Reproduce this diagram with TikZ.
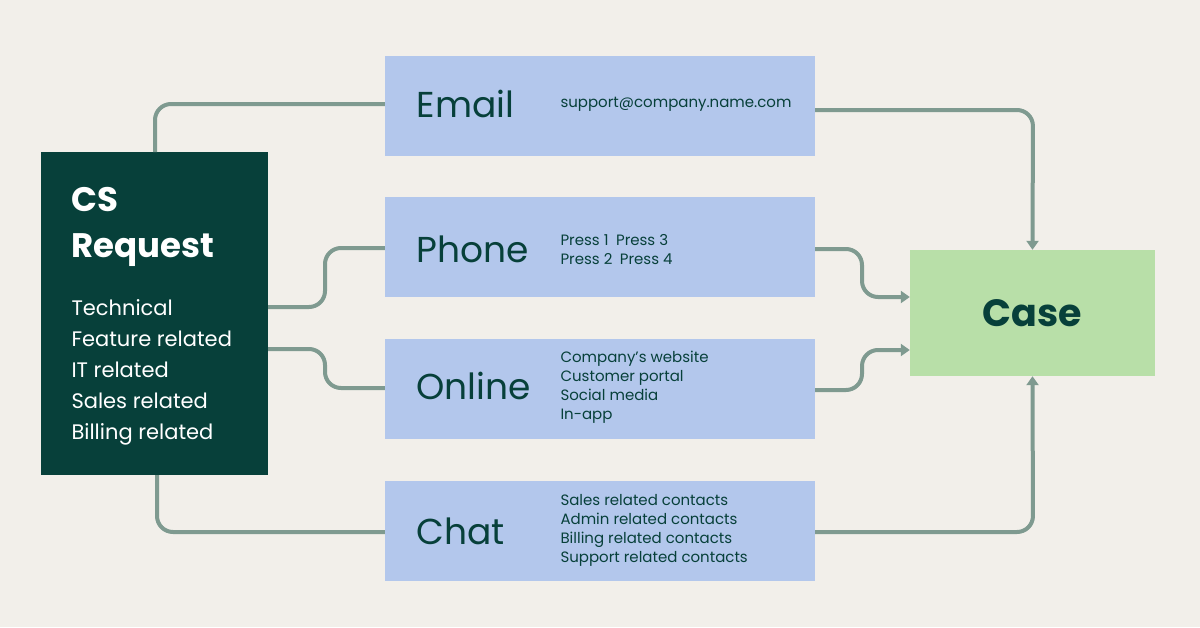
\documentclass[tikz,border=0pt]{standalone}
\usepackage{fontspec}
\setmainfont{Poppins}
\usetikzlibrary{arrows.meta}
\definecolor{bg}{HTML}{F2EFEA}
\definecolor{dk}{HTML}{07403A}
\definecolor{bl}{HTML}{B3C7EC}
\definecolor{gr}{HTML}{B8DFA8}
\definecolor{ln}{HTML}{7F9A90}
\begin{document}
\begin{tikzpicture}[x=1pt,y=-1pt,
 chan/.style={fill=bl,draw=none,minimum width=430pt,minimum height=100pt,inner sep=0pt},
 ttl/.style={anchor=west,text=dk,font=\fontsize{36}{36}\selectfont},
 det/.style={anchor=west,text=dk,align=left,font=\fontsize{15}{19}\selectfont},
 con/.style={draw=ln,line width=4pt,rounded corners=16pt},
 arr/.style={con,-{Triangle[length=9pt,width=12pt]}}]
\fill[bg] (0,0) rectangle (1200,627);
\useasboundingbox (0,0) rectangle (1200,627);
\node[fill=dk,minimum width=227pt,minimum height=323pt,inner sep=0pt] (cs) at (154.5,313.5) {};
\node[anchor=west,text=white,align=left,font=\bfseries\fontsize{34}{46}\selectfont] (cst) at (68,227) {CS\\Request};
\node[anchor=north west,text=white,align=left,font=\fontsize{21}{31}\selectfont] (csl) at (68,296) {Technical\\Feature related\\IT related\\Sales related\\Billing related};
\node[chan] (em) at (600,105.5) {};
\node[chan] (ph) at (600,247) {};
\node[chan] (on) at (600,389) {};
\node[chan] (ch) at (600,530.5) {};
\node[ttl] (emt) at (413,104) {Email};
\node[ttl] (pht) at (413,249) {Phone};
\node[ttl] (ont) at (413,386) {Online};
\node[ttl] (cht) at (413,531) {Chat};
\node[det] (emd) at (557,104) {support@company.name.com};
\node[det] (phd) at (557,250) {Press 1\enspace Press 3\\Press 2\enspace Press 4};
\node[det] (ond) at (557,387) {Company’s website\\Customer portal\\Social media\\In-app};
\node[det] (chd) at (557,530) {Sales related contacts\\Admin related contacts\\Billing related contacts\\Support related contacts};
\node[fill=gr,minimum width=245pt,minimum height=126pt,inner sep=0pt,text=dk,font=\bfseries\fontsize{38}{38}\selectfont] (case) at (1032.5,313) {Case};
\draw[con] (155,152) -- (155,104) -- (em.west|-0,104);
\draw[con] (cs.east|-0,307) -- (325,307) -- (325,248) -- (ph.west|-0,248);
\draw[con] (cs.east|-0,349) -- (325,349) -- (325,388) -- (on.west|-0,388);
\draw[con] (157,475) -- (157,532) -- (ch.west|-0,532);
\draw[arr] (em.east|-0,110) -- (1033,110) -- (case.north);
\draw[arr] (ph.east|-0,249) -- (862,249) -- (862,297) -- (case.west|-0,297);
\draw[arr] (on.east|-0,390) -- (862,390) -- (862,350) -- (case.west|-0,350);
\draw[arr] (ch.east|-0,532) -- (1033,532) -- (case.south);
\end{tikzpicture}
\end{document}
